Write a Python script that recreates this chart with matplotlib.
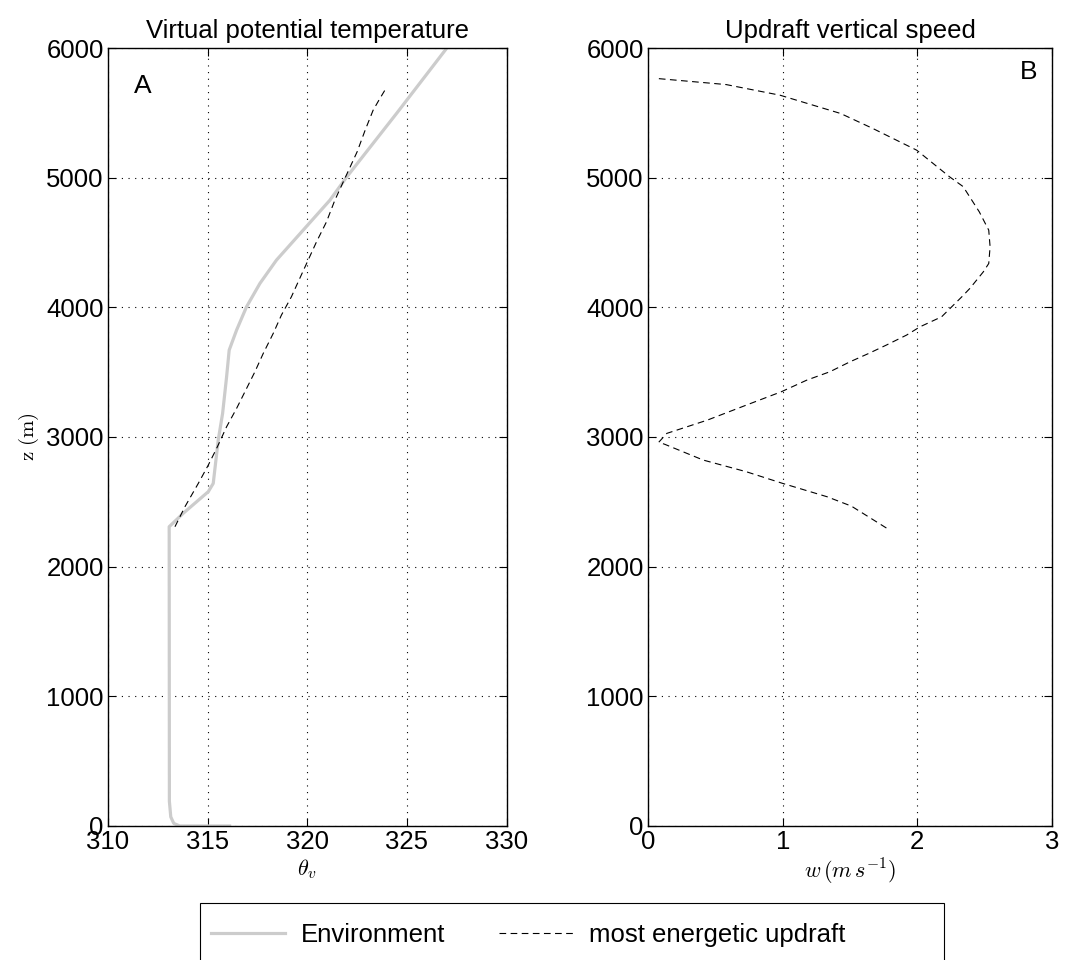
import matplotlib
matplotlib.use("Agg")
from matplotlib import pyplot as plt
from matplotlib.patches import Rectangle

plt.rcParams['font.family'] = ['Liberation Sans', 'DejaVu Sans']
plt.rcParams['mathtext.fontset'] = 'cm'

# environment profile: virtual potential temperature vs height
z_env = [0, 0, 20, 70, 190, 2308, 2411, 2578, 2642, 2976, 3182, 3464, 3670, 3824,
         4004, 4184, 4364, 4595, 4826, 5000, 5500, 6000]
theta_env = [316.1, 313.6, 313.3, 313.15, 313.08, 313.07, 313.77, 315.03, 315.28,
             315.53, 315.75, 315.95, 316.08, 316.45, 316.95, 317.62, 318.45, 319.79,
             321.13, 321.95, 324.5, 327.0]

# most energetic updraft: theta_v vs height
z_up = [2308, 2462, 2642, 2783, 2912, 3079, 3220, 3349, 3503, 3645, 3799, 3940,
        4081, 4223, 4364, 4505, 4659, 4826, 5000, 5200, 5366, 5520, 5600, 5690]
theta_up = [313.36, 313.86, 314.53, 315.03, 315.45, 315.95, 316.45, 316.87, 317.37,
            317.79, 318.29, 318.7, 319.2, 319.62, 320.04, 320.46, 320.96, 321.38,
            321.9, 322.5, 322.9, 323.3, 323.6, 323.95]

# updraft vertical speed vs height
z_w = [2298, 2467, 2539, 2642, 2732, 2822, 2943, 2960, 3028, 3130, 3246, 3349,
       3439, 3503, 3580, 3645, 3709, 3786, 3850, 3927, 4081, 4146, 4274, 4338,
       4467, 4595, 4736, 4931, 5006, 5212, 5379, 5495, 5636, 5718, 5765]
w_up = [1.77, 1.51, 1.33, 1.0, 0.73, 0.41, 0.126, 0.08, 0.14, 0.44, 0.73, 0.99,
        1.18, 1.35, 1.5, 1.64, 1.77, 1.92, 2.02, 2.18, 2.33, 2.39, 2.49, 2.53,
        2.54, 2.53, 2.46, 2.34, 2.24, 1.995, 1.67, 1.43, 0.98, 0.58, 0.065]

fig = plt.figure(figsize=(10.66, 9.6), dpi=100)
ax1 = fig.add_axes([0.1013, 0.1396, 0.374, 0.8104])
ax2 = fig.add_axes([0.6079, 0.1396, 0.379, 0.8104])

env_line, = ax1.plot(theta_env, z_env, color='#cccccc', lw=2.3, label='Environment')
up_line, = ax1.plot(theta_up, z_up, color='black', lw=0.8, dashes=(6, 4),
                    label='most energetic updraft')
ax2.plot(w_up, z_w, color='black', lw=0.8, dashes=(6, 4))

ax1.set_xlim(310, 330)
ax1.set_xticks([310, 315, 320, 325, 330])
ax2.set_xlim(0, 3)
ax2.set_xticks([0, 1, 2, 3])

for ax in (ax1, ax2):
    ax.set_ylim(0, 6000)
    ax.set_yticks([0, 1000, 2000, 3000, 4000, 5000, 6000])
    ax.grid(True, color='black', linestyle=(0, (1, 5)), lw=0.8)
    ax.tick_params(direction='in', top=True, right=True, length=6, width=0.8,
                   labelsize=18.5, pad=3)
    for s in ax.spines.values():
        s.set_linewidth(1.0)

ax1.set_title('Virtual potential temperature', fontsize=18.5, pad=7)
ax2.set_title('Updraft vertical speed', fontsize=18.5, pad=7)
ax1.set_ylabel(r'$\mathrm{z\ (m)}$', fontsize=15, labelpad=4)
ax1.set_xlabel(r'$\theta_v$', fontsize=16, labelpad=2)
ax2.set_xlabel(r'$w\,(m\,s^{-1})$', fontsize=16, labelpad=2)

ax1.text(311.3, 5650, 'A', fontsize=19)
ax2.text(2.76, 5760, 'B', fontsize=19)

# legend box runs off the bottom edge, wider than its entries
fig.patches.append(Rectangle((0.1876, -0.01), 0.698, 0.069, transform=fig.transFigure,
                             facecolor='white', edgecolor='black', lw=0.8, zorder=0))
fig.legend(handles=[env_line, up_line], loc='center left', ncol=2,
           bbox_to_anchor=(0.188, 0.026), fontsize=18.5, frameon=False,
           handlelength=2.9, handletextpad=0.6, columnspacing=2.1, borderaxespad=0)

fig.savefig('out.png', dpi=100, facecolor='white')
